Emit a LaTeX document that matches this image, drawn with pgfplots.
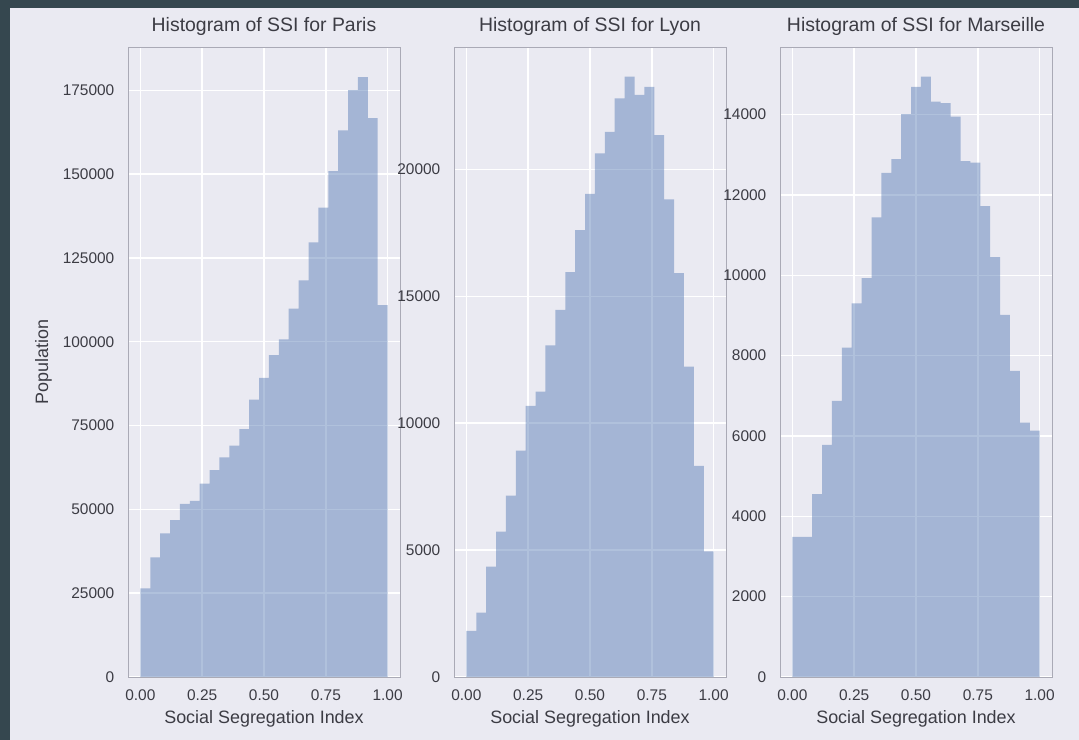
\documentclass[border=0pt]{standalone}
\usepackage{pgfplots}
\pgfplotsset{compat=1.18}
\usepackage{fontspec}
\setmainfont{Liberation Sans}
\definecolor{figbg}{HTML}{EAEAF2}
\definecolor{darkframe}{RGB}{53,71,79}
\definecolor{barc}{HTML}{4C72B0}
\definecolor{txt}{RGB}{60,60,68}
\definecolor{spine}{RGB}{170,170,182}
\pgfplotsset{
 ssi/.style={
  width=272bp, height=630bp, scale only axis,
  xmin=-0.05, xmax=1.05, ymin=0,
  scaled y ticks=false, scaled x ticks=false,
  axis background/.style={fill=figbg},
  axis line style={draw=spine, line width=0.8bp},
  grid=major, major grid style={white, line width=1.4bp},
  major tick length=0pt,
  xtick={0,0.25,0.5,0.75,1}, xticklabels={0.00,0.25,0.50,0.75,1.00},
  tick label style={font=\fontsize{15.5}{18}\selectfont, text=txt},
  xticklabel style={anchor=base, inner sep=0pt, yshift=-23.5bp},
  yticklabel style={anchor=east, inner sep=0pt, xshift=-13.5bp},
  xlabel={Social Segregation Index},
  xlabel style={at={(axis description cs:0.5,0)}, anchor=base, yshift=-46bp, font=\fontsize{18}{21}\selectfont, text=txt},
  title style={at={(axis description cs:0.5,1)}, anchor=base, yshift=9.7bp, font=\fontsize{19.5}{22}\selectfont, text=txt},
  /pgf/number format/assume math mode=true,
 },
 hist/.style={const plot mark left, fill=barc, fill opacity=0.44, draw=none},
}
\begin{document}
\begin{tikzpicture}
\path[use as bounding box, fill=darkframe] (0,0) rectangle (1079bp,740bp);
\fill[figbg] (10bp,0) rectangle (1079bp,732bp);

\begin{axis}[ssi, at={(128bp,63bp)}, anchor=south west,
  title={Histogram of SSI for Paris},
  ymax=187900,
  ytick={0,25000,50000,75000,100000,125000,150000,175000},
  yticklabels={0,25000,50000,75000,100000,125000,150000,175000},
  ylabel={Population},
  ylabel style={at={([xshift=-80bp]axis description cs:0,0.5)}, anchor=base, font=\fontsize{18}{21}\selectfont, text=txt},
]
\addplot[hist] coordinates {(0.00,26400) (0.04,35700) (0.08,42800) (0.12,46800) (0.16,51600) (0.20,52500) (0.24,57700) (0.28,61700) (0.32,65500) (0.36,69000) (0.40,73900) (0.44,82700) (0.48,89200) (0.52,96000) (0.56,100700) (0.60,109900) (0.64,118300) (0.68,129600) (0.72,140000) (0.76,150900) (0.80,163000) (0.84,175000) (0.88,178900) (0.92,166700) (0.96,110900) (1.00,110900)} \closedcycle;
\end{axis}

\begin{axis}[ssi, at={(454bp,63bp)}, anchor=south west,
  title={Histogram of SSI for Lyon},
  ymax=24820,
  ytick={0,5000,10000,15000,20000},
  yticklabels={0,5000,10000,15000,20000},
]
\addplot[hist] coordinates {(0.00,1820) (0.04,2540) (0.08,4350) (0.12,5730) (0.16,7150) (0.20,8920) (0.24,10680) (0.28,11240) (0.32,13060) (0.36,14460) (0.40,15950) (0.44,17610) (0.48,19030) (0.52,20630) (0.56,21480) (0.60,22800) (0.64,23650) (0.68,22930) (0.72,23250) (0.76,21350) (0.80,18820) (0.84,15910) (0.88,12230) (0.92,8320) (0.96,4950) (1.00,4950)} \closedcycle;
\end{axis}

\begin{axis}[ssi, at={(780bp,63bp)}, anchor=south west,
  title={Histogram of SSI for Marseille},
  ymax=15680,
  ytick={0,2000,4000,6000,8000,10000,12000,14000},
  yticklabels={0,2000,4000,6000,8000,10000,12000,14000},
]
\addplot[hist] coordinates {(0.00,3490) (0.04,3490) (0.08,4550) (0.12,5780) (0.16,6870) (0.20,8200) (0.24,9300) (0.28,9930) (0.32,11440) (0.36,12550) (0.40,12890) (0.44,14010) (0.48,14690) (0.52,14940) (0.56,14320) (0.60,14280) (0.64,13950) (0.68,12840) (0.72,12800) (0.76,11720) (0.80,10450) (0.84,9010) (0.88,7620) (0.92,6330) (0.96,6130) (1.00,6130)} \closedcycle;
\end{axis}
\end{tikzpicture}
\end{document}
